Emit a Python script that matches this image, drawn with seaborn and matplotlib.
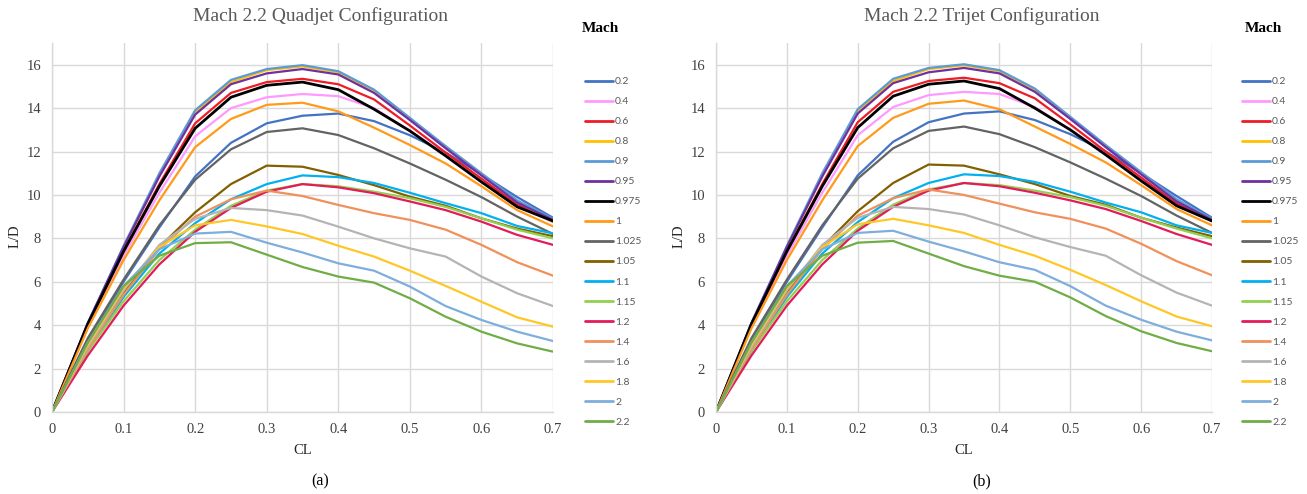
import matplotlib
matplotlib.use("Agg")
import matplotlib.pyplot as plt
from matplotlib.lines import Line2D
import seaborn as sns
import pandas as pd

#%% Datos
cl = [0.0, 0.05, 0.1, 0.15, 0.2, 0.25, 0.3, 0.35, 0.4, 0.45, 0.5, 0.55, 0.6, 0.65, 0.7]

mach_labels = ["0.2", "0.4", "0.6", "0.8", "0.9", "0.95", "0.975", "1", "1.025",
               "1.05", "1.1", "1.15", "1.2", "1.4", "1.6", "1.8", "2", "2.2"]

ld_quadjet = {
    "0.2":   [0, 3.3, 6.0, 8.5, 10.85, 12.4, 13.3, 13.65, 13.75, 13.4, 12.75, 11.95, 10.95, 9.9, 8.95],
    "0.4":   [0, 3.95, 7.2, 10.1, 12.7, 14.0, 14.5, 14.65, 14.55, 14.0, 12.95, 11.85, 10.7, 9.5, 8.75],
    "0.6":   [0, 4.0, 7.4, 10.5, 13.3, 14.7, 15.2, 15.35, 15.1, 14.4, 13.2, 11.95, 10.75, 9.55, 8.8],
    "0.8":   [0, 4.05, 7.55, 10.9, 13.8, 15.2, 15.75, 15.92, 15.65, 14.8, 13.5, 12.2, 10.95, 9.7, 8.75],
    "0.9":   [0, 4.1, 7.65, 11.0, 13.9, 15.3, 15.8, 15.98, 15.7, 14.85, 13.55, 12.25, 11.0, 9.75, 8.9],
    "0.95":  [0, 4.1, 7.6, 10.85, 13.7, 15.1, 15.6, 15.8, 15.55, 14.7, 13.45, 12.15, 10.9, 9.65, 8.85],
    "0.975": [0, 4.05, 7.4, 10.4, 13.07, 14.5, 15.05, 15.2, 14.85, 13.95, 12.95, 11.8, 10.6, 9.45, 8.8],
    "1":     [0, 3.85, 7.0, 9.75, 12.2, 13.5, 14.15, 14.25, 13.85, 13.1, 12.3, 11.45, 10.4, 9.3, 8.55],
    "1.025": [0, 3.4, 6.1, 8.6, 10.7, 12.1, 12.9, 13.07, 12.76, 12.15, 11.45, 10.7, 9.9, 9.0, 8.2],
    "1.05":  [0, 3.0, 5.5, 7.6, 9.2, 10.5, 11.35, 11.3, 10.92, 10.45, 9.92, 9.5, 8.92, 8.45, 8.1],
    "1.1":   [0, 2.8, 5.3, 7.3, 8.7, 9.8, 10.5, 10.9, 10.82, 10.55, 10.1, 9.62, 9.16, 8.57, 8.23],
    "1.15":  [0, 2.8, 5.1, 7.0, 8.4, 9.5, 10.2, 10.5, 10.4, 10.15, 9.85, 9.45, 8.92, 8.4, 8.0],
    "1.2":   [0, 2.6, 4.9, 6.8, 8.3, 9.4, 10.15, 10.5, 10.35, 10.08, 9.7, 9.3, 8.77, 8.16, 7.7],
    "1.4":   [0, 2.9, 5.4, 7.5, 9.0, 9.8, 10.2, 9.95, 9.54, 9.16, 8.85, 8.4, 7.7, 6.9, 6.28],
    "1.6":   [0, 3.0, 5.6, 7.7, 8.9, 9.4, 9.3, 9.05, 8.54, 8.0, 7.54, 7.16, 6.24, 5.47, 4.88],
    "1.8":   [0, 3.1, 5.7, 7.6, 8.6, 8.85, 8.55, 8.2, 7.66, 7.16, 6.51, 5.81, 5.08, 4.36, 3.93],
    "2":     [0, 3.2, 5.8, 7.5, 8.22, 8.3, 7.8, 7.35, 6.85, 6.51, 5.78, 4.88, 4.24, 3.7, 3.27],
    "2.2":   [0, 3.2, 5.8, 7.2, 7.78, 7.82, 7.25, 6.68, 6.24, 5.96, 5.24, 4.39, 3.7, 3.16, 2.78],
}

# la configuracion trijet es practicamente igual a la quadjet
ld_trijet = {
    "0.2":   [0, 3.3, 6.0, 8.5, 10.9, 12.45, 13.35, 13.75, 13.85, 13.45, 12.8, 12.0, 11.0, 9.95, 8.95],
    "0.4":   [0, 3.95, 7.2, 10.1, 12.75, 14.05, 14.6, 14.75, 14.65, 14.05, 13.0, 11.9, 10.75, 9.55, 8.8],
    "0.6":   [0, 4.0, 7.4, 10.5, 13.35, 14.75, 15.25, 15.4, 15.15, 14.45, 13.25, 12.0, 10.8, 9.6, 8.8],
    "0.8":   [0, 4.05, 7.55, 10.9, 13.85, 15.25, 15.8, 15.97, 15.7, 14.85, 13.55, 12.25, 11.0, 9.75, 8.8],
    "0.9":   [0, 4.1, 7.65, 11.0, 13.95, 15.35, 15.85, 16.02, 15.75, 14.9, 13.6, 12.3, 11.05, 9.8, 8.9],
    "0.95":  [0, 4.1, 7.6, 10.85, 13.75, 15.15, 15.65, 15.85, 15.6, 14.75, 13.5, 12.2, 10.95, 9.7, 8.85],
    "0.975": [0, 4.05, 7.4, 10.4, 13.1, 14.55, 15.1, 15.25, 14.9, 14.0, 13.0, 11.85, 10.65, 9.5, 8.8],
    "1":     [0, 3.85, 7.0, 9.75, 12.25, 13.55, 14.2, 14.35, 13.95, 13.15, 12.35, 11.5, 10.45, 9.35, 8.6],
    "1.025": [0, 3.4, 6.1, 8.6, 10.75, 12.15, 12.95, 13.15, 12.8, 12.2, 11.5, 10.75, 9.95, 9.05, 8.25],
    "1.05":  [0, 3.0, 5.5, 7.6, 9.25, 10.55, 11.4, 11.35, 10.95, 10.5, 9.95, 9.55, 8.95, 8.5, 8.1],
    "1.1":   [0, 2.8, 5.3, 7.3, 8.75, 9.85, 10.55, 10.95, 10.87, 10.6, 10.15, 9.65, 9.2, 8.6, 8.25],
    "1.15":  [0, 2.8, 5.1, 7.0, 8.45, 9.55, 10.25, 10.55, 10.45, 10.2, 9.9, 9.5, 8.95, 8.45, 8.0],
    "1.2":   [0, 2.6, 4.9, 6.8, 8.35, 9.45, 10.2, 10.55, 10.4, 10.1, 9.75, 9.35, 8.8, 8.2, 7.7],
    "1.4":   [0, 2.9, 5.4, 7.5, 9.05, 9.85, 10.25, 10.0, 9.6, 9.2, 8.9, 8.45, 7.75, 6.95, 6.3],
    "1.6":   [0, 3.0, 5.6, 7.7, 8.95, 9.45, 9.35, 9.1, 8.6, 8.05, 7.6, 7.2, 6.3, 5.5, 4.9],
    "1.8":   [0, 3.1, 5.7, 7.6, 8.65, 8.9, 8.6, 8.25, 7.7, 7.2, 6.55, 5.85, 5.1, 4.4, 3.95],
    "2":     [0, 3.2, 5.8, 7.5, 8.25, 8.35, 7.85, 7.4, 6.9, 6.55, 5.8, 4.9, 4.25, 3.7, 3.3],
    "2.2":   [0, 3.2, 5.8, 7.2, 7.8, 7.88, 7.3, 6.72, 6.28, 6.0, 5.28, 4.42, 3.72, 3.18, 2.8],
}

colores = {
    "0.2": "#4472C4", "0.4": "#FF99FF", "0.6": "#EE1C25", "0.8": "#FFC000",
    "0.9": "#5B9BD5", "0.95": "#7030A0", "0.975": "#000000", "1": "#FF9A1A",
    "1.025": "#636363", "1.05": "#806000", "1.1": "#00B0F0", "1.15": "#92D050",
    "1.2": "#E31B5B", "1.4": "#F0905A", "1.6": "#B4B4B4", "1.8": "#FFC726",
    "2": "#7EAEDC", "2.2": "#70AD47",
}

x_ticks = [0, 0.1, 0.2, 0.3, 0.4, 0.5, 0.6, 0.7]
x_tick_labels = ["0", "0.1", "0.2", "0.3", "0.4", "0.5", "0.6", "0.7"]
y_ticks = [0, 2, 4, 6, 8, 10, 12, 14, 16]


def a_tabla(datos):
    filas = []
    for m in mach_labels:
        for c, v in zip(cl, datos[m]):
            filas.append({"CL": c, "L/D": v, "Mach": m})
    return pd.DataFrame(filas)


#%% Figura
sns.set_style("white")
plt.rcParams["font.family"] = ["Liberation Serif", "DejaVu Serif"]

W, H = 1307, 494
fig = plt.figure(figsize=(W / 100, H / 100), dpi=100)

# (datos, titulo, letra, x0, x1, x leyenda, x "Mach")
paneles = [
    (ld_quadjet, "Mach 2.2 Quadjet Configuration", "(a)", 52, 553, 585, 600),
    (ld_trijet, "Mach 2.2 Trijet Configuration", "(b)", 716, 1212, 1242, 1263),
]

for datos, titulo, letra, x0, x1, xleg, xmach in paneles:
    top, bottom = 43, 412
    ax = fig.add_axes([x0 / W, 1 - bottom / H, (x1 - x0) / W, (bottom - top) / H])
    df = a_tabla(datos)
    sns.lineplot(data=df, x="CL", y="L/D", hue="Mach", palette=colores,
                 hue_order=mach_labels, linewidth=1.6, legend=False, ax=ax)
    for ln in ax.get_lines():
        ln.set_solid_joinstyle("round")
        if ln.get_color() == "#000000":
            ln.set_linewidth(2.0)

    ax.set_xlim(0, 0.7)
    ax.set_ylim(0, 17)
    ax.set_xticks(x_ticks)
    ax.set_xticklabels(x_tick_labels)
    ax.set_yticks(y_ticks)
    ax.grid(True, color="#D9D9D9", linewidth=1.0)
    ax.set_axisbelow(True)
    for lado in ["top", "right"]:
        ax.spines[lado].set_visible(False)
    for lado in ["left", "bottom"]:
        ax.spines[lado].set_color("#D9D9D9")
        ax.spines[lado].set_linewidth(1.0)
    ax.tick_params(axis="both", length=0, labelsize=10.5, labelcolor="#404040")
    ax.tick_params(axis="x", pad=8)
    ax.tick_params(axis="y", pad=8)
    ax.set_xlabel("")
    ax.set_ylabel("")

    ancho = x1 - x0
    fig.text((x0 + 0.535 * ancho) / W, 1 - 16 / H, titulo, ha="center", va="center",
             fontsize=14, color="#595959")
    fig.text((x0 + 0.5 * ancho) / W, 1 - 450 / H, "CL", ha="center",
             va="center", fontsize=10.5, color="#262626")
    fig.text((x0 - 37) / W, 1 - 236 / H, "L/D", ha="center", va="center",
             rotation=90, fontsize=10.5, color="#262626")
    fig.text((x0 + 0.536 * ancho) / W, 1 - 481 / H, letra, ha="center",
             va="center", fontsize=11.5, color="#000000")
    fig.text(xmach / W, 1 - 28 / H, "Mach", ha="center", va="center",
             fontsize=11, fontweight="bold", color="#000000")

    handles = [Line2D([0], [0], color=colores[m], linewidth=2.0) for m in mach_labels]
    ax.legend(handles, mach_labels, loc="upper left",
              bbox_to_anchor=(xleg / W, 1 - 77 / H), bbox_transform=fig.transFigure,
              frameon=False, borderpad=0, borderaxespad=0,
              handlelength=2.7, handletextpad=0.2, labelspacing=1.03,
              prop={"family": "Lato", "size": 7.5}, labelcolor="#595959")

fig.savefig("out.png", dpi=100)
